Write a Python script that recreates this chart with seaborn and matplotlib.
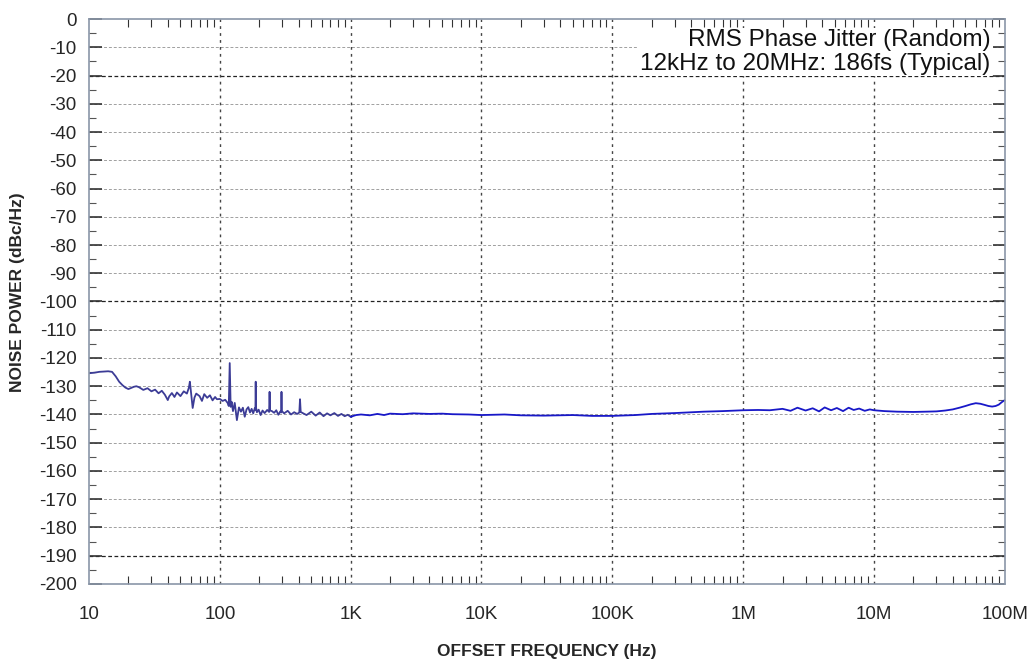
import numpy as np
import pandas as pd
import seaborn as sns
import matplotlib.pyplot as plt
from matplotlib.ticker import FixedLocator, LogLocator, NullFormatter

# Czestotliwosc offsetu (Hz) i szum fazowy (dBc/Hz), po 10 w wierszu
freq_hz = [
    10, 11, 12, 13, 14, 15, 16, 17, 18, 19,
    20, 21, 22, 23, 24, 25, 26, 28, 30, 32,
    34, 36, 38, 40, 41, 43, 45, 47, 50, 53,
    56, 58, 59, 60, 62, 64, 66, 70, 73, 76,
    80, 84, 88, 92, 95, 100, 105, 110, 115, 117,
    119, 121, 123, 126, 130, 135, 140, 145, 150, 155,
    160, 165, 170, 175, 180, 185, 187, 188, 189, 192,
    198, 205, 212, 220, 230, 238, 240, 242, 250, 260,
    270, 280, 290, 294, 296, 298, 310, 330, 350, 370,
    390, 405, 410, 415, 430, 460, 500, 540, 580, 620,
    660, 700, 750, 800, 850, 900, 950, 1000, 1100, 1200,
    1400, 1600, 1800, 2000, 2500, 3000, 4000, 5000, 6000, 8000,
    1e4, 1.5e4, 2e4, 3e4, 5e4, 7e4, 1e5, 1.5e5, 2e5, 3e5,
    5e5, 7e5, 1e6, 1.3e6, 1.6e6, 2e6, 2.3e6, 2.6e6, 3e6, 3.4e6,
    3.8e6, 4.2e6, 4.7e6, 5.2e6, 5.8e6, 6.4e6, 7e6, 7.7e6, 8.5e6, 9.3e6,
    1e7, 1.2e7, 1.5e7, 2e7, 2.5e7, 3e7, 3.5e7, 4e7, 4.5e7, 5e7,
    5.5e7, 6e7, 6.5e7, 7e7, 7.5e7, 8e7, 8.5e7, 9e7, 9.5e7, 1e8,
]
noise_dbc = [
    -125.4, -125.2, -124.9, -124.8, -124.7, -124.9, -126.5, -128.4, -129.6, -130.5,
    -131.0, -130.6, -130.2, -130.0, -130.3, -130.8, -131.3, -130.7, -131.8, -131.2,
    -132.5, -131.6, -133.0, -134.9, -133.6, -132.4, -133.8, -132.2, -133.5, -131.8,
    -132.6, -130.5, -128.4, -131.5, -137.7, -134.0, -132.6, -133.5, -135.2, -132.8,
    -134.1, -133.2, -135.0, -133.8, -134.6, -134.5, -135.2, -134.8, -136.0, -137.0,
    -121.8, -137.3, -135.5, -138.8, -135.9, -142.0, -137.5, -139.0, -137.6, -140.8,
    -138.2, -137.4, -139.3, -138.0, -139.6, -137.8, -138.5, -128.4, -137.5, -139.2,
    -138.3, -140.2, -138.6, -139.5, -138.4, -139.1, -132.0, -138.6, -138.8, -139.4,
    -138.5, -140.1, -138.9, -139.3, -132.0, -138.8, -139.6, -138.7, -140.0, -139.2,
    -139.8, -139.3, -134.6, -139.1, -139.5, -140.2, -139.0, -140.4, -139.3, -140.6,
    -139.6, -140.3, -139.5, -140.5, -139.8, -140.6, -140.1, -140.8, -140.2, -140.0,
    -140.3, -139.8, -140.2, -139.7, -139.9, -139.6, -139.8, -139.7, -139.9, -140.0,
    -140.2, -140.0, -140.3, -140.4, -140.2, -140.5, -140.5, -140.2, -139.8, -139.5,
    -139.0, -138.8, -138.5, -138.4, -138.5, -138.0, -138.7, -137.6, -138.6, -137.8,
    -138.9, -137.5, -138.5, -137.7, -138.8, -137.6, -138.4, -137.9, -138.7, -138.2,
    -138.5, -138.8, -139.0, -139.1, -139.0, -138.9, -138.6, -138.2, -137.6, -137.0,
    -136.4, -136.0, -136.2, -136.6, -137.0, -137.2, -137.0, -136.5, -135.6, -134.9,
]
y_ticks = list(range(0, -201, -10))
x_ticks = [10, 100, 1e3, 1e4, 1e5, 1e6, 1e7, 1e8]
x_labels = ["10", "100", "1K", "10K", "100K", "1M", "10M", "100M"]
note_lines = ["RMS Phase Jitter (Random)", "12kHz to 20MHz: 186fs (Typical)"]

df = pd.DataFrame({"freq": freq_hz, "noise": noise_dbc})
# lewa czesc sladu jest szarawa, prawa niebieska; punkt 1 kHz w obu, zeby linia byla ciagla
low = df[df["freq"] <= 1000].assign(part="low")
high = df[df["freq"] >= 1000].assign(part="high")
df_plot = pd.concat([low, high], ignore_index=True)

sns.set_style("white")
plt.rcParams["font.family"] = ["Liberation Sans", "DejaVu Sans"]

fig = plt.figure(figsize=(10.29, 6.63), dpi=100)
ax = fig.add_axes([0.0865, 0.1192, 0.890, 0.8521])

sns.lineplot(data=df_plot, x="freq", y="noise", hue="part", units="part",
             palette={"low": "#3c3c96", "high": "#1818c8"}, ax=ax,
             linewidth=1.3, estimator=None, sort=False, legend=False)

ax.set_xscale("log")
ax.set_xlim(10, 1e8)
ax.set_ylim(-200, 0)

ax.set_xticks(x_ticks)
ax.set_xticklabels(x_labels, fontsize=13.5)
ax.xaxis.set_minor_locator(LogLocator(base=10, subs=np.arange(2, 10)))
ax.xaxis.set_minor_formatter(NullFormatter())
ax.set_yticks(y_ticks)
ax.set_yticklabels([str(v) for v in y_ticks], fontsize=13.5)
ax.yaxis.set_minor_locator(FixedLocator(list(range(-5, -200, -10))))

ax.tick_params(axis="x", which="major", direction="in", length=0, pad=16)
ax.tick_params(axis="x", which="minor", direction="in", length=6, width=0.8,
               top=True, bottom=True, color="#333333")
ax.tick_params(axis="y", which="major", direction="in", length=9, width=1.2,
               left=True, right=True, pad=9, color="#333333")
ax.tick_params(axis="y", which="minor", direction="in", length=5, width=0.8,
               left=True, right=True, color="#555555")

# Siatka: przerywane linie poziome, kropkowane pionowe
for v in y_ticks[1:-1]:
    dark = v in (-20, -100, -190)
    ax.axhline(v, color="#222222" if dark else "#a0a0a0",
               linestyle=(0, (3, 2)), linewidth=0.9 if dark else 0.7, zorder=0)
for v in x_ticks[1:-1]:
    ax.axvline(v, color="#444444", linestyle=(0, (2, 3)), linewidth=1.0, zorder=0)

for s in ax.spines.values():
    s.set_color("#8a96a8")
    s.set_linewidth(1.2)

ax.text(0.984, 0.982, "\n".join(note_lines), transform=ax.transAxes,
        ha="right", va="top", fontsize=17.5, linespacing=1.1, color="#111111",
        bbox=dict(facecolor="white", edgecolor="none", pad=1.0))

ax.set_xlabel("OFFSET FREQUENCY (Hz)", fontsize=12.5, fontweight="bold", labelpad=15)
ax.set_ylabel("NOISE POWER (dBc/Hz)", fontsize=12.5, fontweight="bold")
ax.yaxis.set_label_coords(-0.07, 0.517)

fig.savefig("out.png", dpi=100)
